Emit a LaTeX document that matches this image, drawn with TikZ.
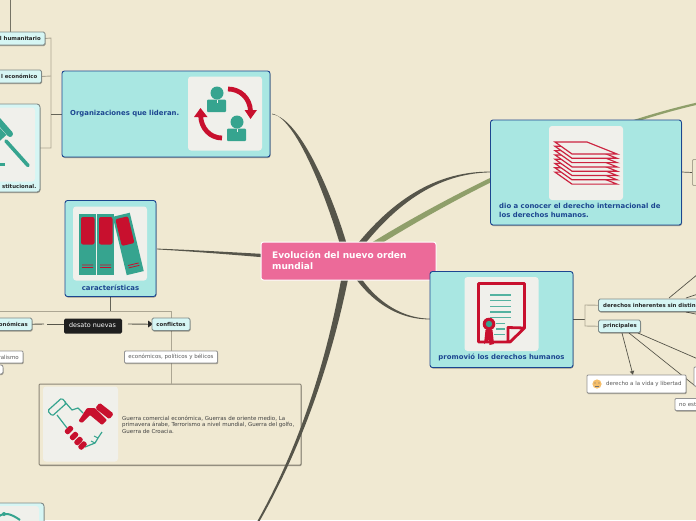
\documentclass[tikz,border=0pt]{standalone}
\usepackage{fontspec}
\setmainfont{DejaVu Sans}
\usetikzlibrary{calc,shadows,arrows.meta}
\pgfdeclarelayer{bg}\pgfdeclarelayer{conn}\pgfsetlayers{bg,conn,main}
\definecolor{paper}{HTML}{F0E9D2}
\definecolor{aqua}{HTML}{A9E7E2}
\definecolor{navy}{HTML}{1C4690}
\definecolor{pale}{HTML}{D6F6F4}
\definecolor{tile}{HTML}{F0F0EB}
\definecolor{pinkc}{HTML}{EC6A99}
\definecolor{branch}{HTML}{56554A}
\definecolor{leaf}{HTML}{8F9F6A}
\definecolor{bracket}{HTML}{ACA693}
\definecolor{edgec}{HTML}{7F8A88}
\definecolor{teal}{HTML}{36A48F}
\definecolor{crim}{HTML}{C8102E}
\definecolor{smile}{HTML}{F5BE6A}
\newcommand{\pxf}[1]{\fontsize{#1pt}{#1pt}\selectfont}
% colour, start, c1, c2, end, half-width offsets at start, first control, end; second control uses half of the middle offset
\newcommand{\taper}[8]{\fill[#1] ($(#2)+(#6)$) .. controls ($(#3)+(#7)$) and ($(#4)+0.5*(#7)$) .. ($(#5)+(#8)$) -- ($(#5)-(#8)$) .. controls ($(#4)-0.5*(#7)$) and ($(#3)-(#7)$) .. ($(#2)-(#6)$) -- cycle;}
\tikzset{
 box/.style={rectangle,inner sep=0pt,outer sep=0pt,anchor=north west,rounded corners=2.5pt},
 sh/.style={drop shadow={shadow xshift=0.5pt,shadow yshift=-1pt,opacity=.35,fill=black}},
 bluebox/.style={box,sh,fill=aqua,draw=navy,line width=.9pt},
 palebox/.style={box,sh,fill=pale,draw=edgec,line width=.9pt,rounded corners=1.5pt},
 whitebox/.style={box,sh,fill=white,draw=gray!85,line width=.9pt,rounded corners=1pt},
 tilebox/.style={box,fill=tile,rounded corners=3pt},
 bluetxt/.style={inner sep=0pt,text=navy,font=\pxf{6.9}\bfseries,align=left},
 smalltxt/.style={inner sep=0pt,text=black!85,font=\pxf{5.4}\bfseries},
 greytxt/.style={inner sep=0pt,text=black!65,font=\pxf{5.5}},
 brk/.style={draw=bracket,line width=.9pt},
 thin conn/.style={draw=branch,line width=.7pt},
 person/.style={fill=teal},
}
\begin{document}
\begin{tikzpicture}[x=1pt,y=-1pt]
\useasboundingbox (0,0) rectangle (696,520);
\begin{pgfonlayer}{bg}
\fill[paper] (0,0) rectangle (696,520);
\end{pgfonlayer}
% ---------- main nodes
\node[box,fill=pinkc,draw=white,line width=1pt,minimum width=175pt,minimum height=38pt] (center) at (261,242) {};
\node[anchor=north west,inner sep=0pt,text=white,font=\pxf{9}\bfseries,align=left] (centertxt) at (272,251.5) {Evolución del nuevo orden\\[2pt]mundial};
\node[bluebox,minimum width=208pt,minimum height=86pt] (org) at (62,71) {};
\node[bluetxt,anchor=west] (orgtxt) at (70,114) {Organizaciones que lideran.};
\node[tilebox,minimum width=74pt,minimum height=74pt] (orgtile) at (188,76.5) {};
\node[bluebox,minimum width=91pt,minimum height=96pt] (car) at (65,200.5) {};
\node[tilebox,minimum width=74pt,minimum height=74pt] (cartile) at (73,206.5) {};
\node[bluetxt,anchor=center] (cartxt) at (110.5,287.5) {características};
\node[bluebox,minimum width=191pt,minimum height=105pt] (dio) at (490.5,120) {};
\node[tilebox,minimum width=74pt,minimum height=74pt] (diotile) at (549,126) {};
\node[bluetxt,anchor=north west] (diotxt) at (499,203) {dio a conocer el derecho internacional de\\[2pt]los derechos humanos.};
\node[bluebox,minimum width=143pt,minimum height=96pt] (pro) at (430,271.5) {};
\node[tilebox,minimum width=74pt,minimum height=74pt] (protile) at (464.5,277) {};
\node[bluetxt,anchor=center] (protxt) at (501.5,357.5) {promovió los derechos humanos};
% ---------- left column
\node[palebox,minimum width=65pt,minimum height=13pt] (hum) at (-20,32) {};
\node[smalltxt,anchor=east] (humtxt) at (41,38.3) {l humanitario};
\node[palebox,minimum width=61.5pt,minimum height=13pt] (eco) at (-20,70) {};
\node[smalltxt,anchor=east] (ecotxt) at (37.5,76.3) {l económico};
\node[palebox,fill=pale,minimum width=60pt,minimum height=88pt,rounded corners=3pt] (inst) at (-20,104) {};
\node[tilebox,minimum width=55pt,minimum height=74pt] (insttile) at (-20,107.5) {};
\node[smalltxt,anchor=east] (insttxt) at (36.5,186.5) {stitucional.};
\node[palebox,minimum width=64pt,minimum height=60pt,rounded corners=3pt] (low) at (-20,503) {};
\node[tilebox,minimum width=59pt,minimum height=40pt] (lowtile) at (-20,506) {};
\node[palebox,minimum width=52pt,minimum height=12.5pt] (econ) at (-20,318) {};
\node[smalltxt,anchor=east] (econtxt) at (28,324.3) {onómicas};
\node[box,fill=black!88,rounded corners=1.5pt,minimum width=58pt,minimum height=15pt] (des) at (64,318.5) {};
\node[inner sep=0pt,text=white,font=\pxf{6.4}] (destxt) at (92.5,325.5) {desato nuevas};
\node[palebox,minimum width=38pt,minimum height=12.5pt] (con) at (152,318) {};
\node[smalltxt] (contxt) at (171,324.3) {conflictos};
\node[whitebox,minimum width=43pt,minimum height=12pt] (plu) at (-20,351) {};
\node[greytxt,anchor=east] (plutxt) at (19,357.2) {ralismo};
\node[whitebox,minimum width=23pt,minimum height=9pt,rounded corners=2pt] (stub) at (-20,365) {};
\node[whitebox,minimum width=93pt,minimum height=12pt] (epb) at (124.5,351) {};
\node[greytxt] (epbtxt) at (171,357.2) {económicos, políticos y bélicos};
% ---------- right column
\node[palebox,minimum width=110pt,minimum height=12.5pt] (inh) at (598.5,299) {};
\node[smalltxt,anchor=west] (inhtxt) at (603,305.3) {derechos inherentes sin distin};
\node[palebox,minimum width=42pt,minimum height=12.5pt] (pri) at (598.5,320) {};
\node[smalltxt,anchor=west] (pritxt) at (603,326.3) {principales};
\node[whitebox,minimum width=99pt,minimum height=18pt] (vid) at (587,375) {};
\node[greytxt,anchor=west] (vidtxt) at (606,384) {derecho a la vida y libertad};
\node[whitebox,minimum width=20pt,minimum height=19pt] (rbox) at (694,367) {};
\node[whitebox,minimum width=40pt,minimum height=12pt] (noe) at (675,398.5) {};
\node[greytxt,anchor=west] (noetxt) at (679,405) {no est};
\node[box,draw=bracket,line width=.8pt,rounded corners=1pt,minimum width=20pt,minimum height=26pt] (rtop) at (692.5,159.5) {};
% ---------- free ends off the page
\coordinate (topend) at (10,-3);
\coordinate (greenend) at (700,103);
\coordinate (lowend) at (258,522);
\coordinate (ra) at (698,274);
\coordinate (rb) at (698,294);
\coordinate (rc) at (698,314.5);
\coordinate (rd) at (698,359);
\coordinate (mid) at (348,261);
% ---------- connectors
\begin{pgfonlayer}{conn}
\node[box,sh,fill=paper,draw=bracket!80!black,line width=1pt,rounded corners=1pt,minimum width=262pt,minimum height=81pt] (gue) at (39,384) {};
\taper{leaf}{mid}{450,195}{580,130}{greenend}{1.6,2.6}{1.3,2.2}{.5,1}
\taper{branch}{mid}{335,210}{300,118}{272,114}{3.2,-.6}{3.4,-1.2}{0,.35}
\taper{branch}{mid}{335,335}{310,430}{lowend}{3.6,0}{2.8,.5}{.9,.3}
\taper{branch}{mid}{385,210}{430,172}{491,172}{2.2,2.2}{1.6,2.2}{0,.35}
\taper{branch}{mid}{365,295}{395,319}{430,319}{-2,2.2}{-1,1.6}{0,.35}
\taper{branch}{mid}{290,258}{220,252}{157,249}{0,3}{0,2}{0,.4}
\draw[thin conn,draw=branch!80!paper] (hum.north -| topend) -- (topend);
\draw[brk] (hum.east) -- (51,38) -- (51,148) -- (inst.east);
\draw[brk] (eco.east) -- (51,76);
\draw[thin conn,draw=branch!90!paper,line width=.9pt] (org.west) -- (51,114);
\draw[thin conn,draw=branch!90!paper,line width=.9pt] (car.south) -- (110.5,311);
\draw[brk] (-2,311) -- (171,311) -- (con.north);
\draw[brk] (con.south) -- (epb.north);
\draw[brk] (epb.south) -- (171,384);
\draw[thin conn,line width=.9pt] (econ.east) -- (44,324);
\draw[thin conn,line width=.9pt] (47,324) -- (des.west |- 0,324);
\draw[thin conn,line width=.9pt] (128,324) -- (con.west);
\fill[black!85] (148,320.5) -- (153,324) -- (148,327.5) -- cycle;
\draw[thin conn,line width=.9pt] (pro.east |- 0,319.5) -- (585,319.5);
\draw[brk] (inh.west) -- (585,305) -- (585,326) -- (pri.west);
\draw[thin conn] (dio.east |- 0,172) -- (rtop.west);
\draw[thin conn] (669,298) -- (ra);
\draw[thin conn] (686,298) -- (rb);
\draw[thin conn] (686,312) -- (rc);
\draw[thin conn,-{Latex[length=4pt,width=5pt]}] (622,333) -- (vid.north -| 633,0);
\draw[thin conn] (629,333) -- (rbox.west |- 0,385);
\draw[thin conn] (638,333) -- (rd);
\end{pgfonlayer}
\node[anchor=north west,inner sep=0pt,text=black!75,font=\pxf{5.5},align=left] (guetxt) at (122,415.5) {Guerra comercial económica, Guerras de oriente medio, La\\[1pt]primavera árabe, Terrorismo a nivel mundial, Guerra del golfo,\\[1pt]Guerra de Croacia.};
\node[tilebox,minimum width=75pt,minimum height=75pt] (guetile) at (43,386.5) {};
% ---------- icon: people and arrows
\fill[person] (217,93) circle (6.5);
\fill[person,rounded corners=1pt] (207,99.5) rectangle (226,112);
\fill[person] (237,122) circle (6.5);
\fill[person,rounded corners=1pt] (227,128.5) rectangle (246,141);
\draw[tile,line width=.5pt] (217,99.5) -- (217,103) (237,128.5) -- (237,132);
\draw[crim,line width=4.8pt] (228,89) .. controls (240,89) and (250,98) .. (250.5,111);
\fill[crim] (244.5,110) -- (257,110) -- (250.5,119) -- cycle;
\draw[crim,line width=4.8pt] (222,138) .. controls (210,138) and (201,128) .. (200.7,116);
\fill[crim] (194,117) -- (207.5,117) -- (200.5,108) -- cycle;
% ---------- icon: books
\fill[teal] (79,214) rectangle (96,275);
\fill[crim,rounded corners=2pt] (81,217) rectangle (94.5,244.5);
\fill[crim] (82,264.5) rectangle (93,265.3) (82,267) rectangle (93,267.8);
\fill[teal] (97,214) rectangle (114,275);
\fill[crim,rounded corners=2pt] (99,217) rectangle (112.5,244.5);
\fill[crim] (100,264.5) rectangle (111,265.3) (100,267) rectangle (111,267.8);
\begin{scope}[rotate around={13.5:(128,244)}]
\fill[teal] (119.5,214) rectangle (137,274);
\fill[crim,rounded corners=2pt] (121.5,217) rectangle (134.5,244.5);
\fill[crim] (123,264.5) rectangle (134,265.3) (123,267) rectangle (134,267.8);
\end{scope}
% ---------- icon: stack of sheets
\foreach \i in {7,6,...,0}{
 \filldraw[draw=crim!92!white,fill=tile,line width=1.2pt,line join=miter] (555,142+\i*4.3) -- (587,142+\i*4.3) -- (617,154+\i*4.3) -- (572,154+\i*4.3) -- cycle;
}
% ---------- icon: certificate
\draw[crim,line width=2.8pt,line join=round] (508,342) -- (478.5,342) -- (478.5,283.5) -- (524.5,283.5) -- (524.5,328) -- (510,342) -- (508,342) -- (508,327.5) -- (524.5,328);
\foreach \y in {295,300.7,306.3,312,317.7}{\draw[teal!85!white,line width=1.2pt] (490,\y) -- (511,\y);}
\foreach \y in {323.5,329}{\draw[teal!85!white,line width=1.2pt] (496,\y) -- (505,\y);}
\draw[teal!85!white,line width=1.2pt] (494,334.5) -- (505,334.5);
\fill[crim] (485.5,330) -- (484,344) -- (489,340) -- (489.5,345) -- (494,344) -- (492.5,330) -- cycle;
\fill[crim] (489,324) circle (6.3);
\fill[teal] (489,324) circle (3.2);
% ---------- icon: gavel
\begin{scope}
\draw[teal,line width=3.6pt,line cap=round] (6,141) -- (28,165.5);
\draw[teal,line width=6pt,line cap=round] (-4,118) -- (10,134);
\draw[teal,line width=9pt] (-7,127) -- (3,138);
\fill[teal] (0,162.5) rectangle (5,166);
\end{scope}
% ---------- icon: handshake
\draw[teal,line width=1.2pt,rounded corners=1.5pt,rotate around={42:(57,407)}] (47.5,403.5) rectangle (66.5,410.5);
\draw[teal,line width=1.2pt,line join=round] (65,402) -- (72,410) -- (78,408) -- (83,413);
\draw[teal,line width=1.2pt,line join=round] (57,415) -- (67,428);
\draw[teal,line width=1.2pt,line join=round] (85,447) -- (95,443) -- (98,438) -- (102,432);
\draw[teal,line width=1pt] (91,441) -- (95,443) (94,436) -- (98,438);
\fill[crim,rounded corners=1pt] (78.5,421) -- (87,408) -- (95,408) -- (107,420) -- (102,425) -- (90,415) -- (82,423) -- cycle;
\fill[crim,rounded corners=1.5pt,rotate around={-38:(104.5,411)}] (95.5,407.5) rectangle (113.5,414.5);
\foreach \p/\q in {69/430,74/436,78.5/441,82.5/445.5}{
 \fill[crim,rounded corners=2pt,rotate around={45:(\p,\q)}] (\p-4.5,\q-2.7) rectangle (\p+4.5,\q+2.7);
}
% ---------- icon: low box and emoji
\draw[teal,line width=2pt] (-2,517) .. controls (4,512) and (10,513) .. (20,520);
\fill[teal] (4,514) circle (2);
\fill[smile] (597,384) circle (4.6);
\fill[black!55] (595,383) circle (.6) (599,383) circle (.6);
\draw[black!55,line width=.4pt] (595,386) -- (599,386);
\end{tikzpicture}
\end{document}
